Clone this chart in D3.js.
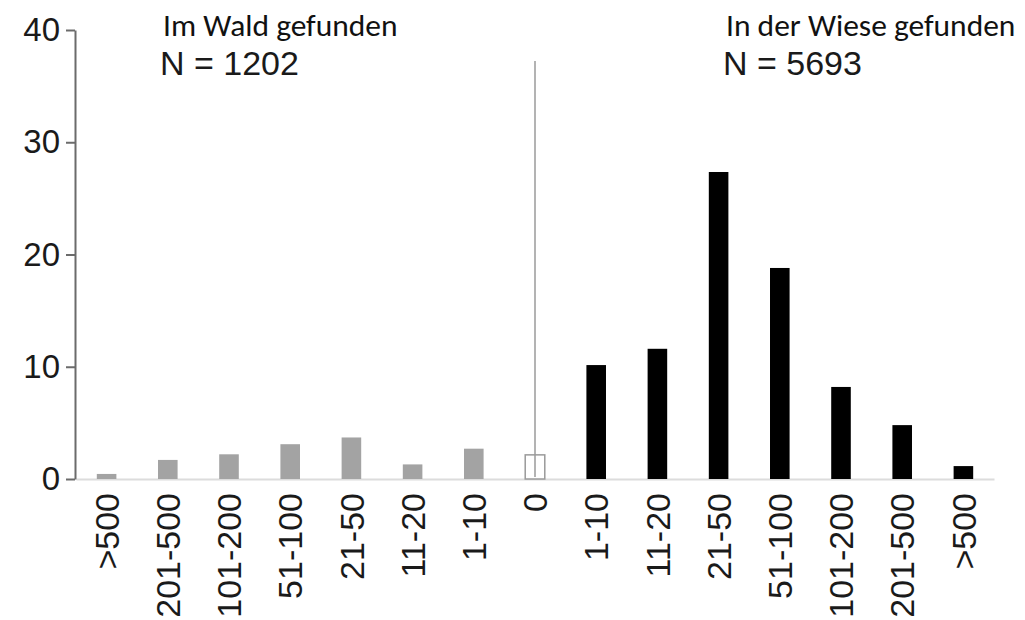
<!DOCTYPE html>
<html>
<head>
<meta charset="utf-8">
<script src="https://d3js.org/d3.v7.min.js"></script>
<style>
  body { margin: 0; background: #fff; }
  svg text { font-family: "Liberation Sans", Arial, sans-serif; }
</style>
</head>
<body>
<div id="chart"></div>
<script>
// classes of counts, left side = forest, right side = meadow
var categories = [">500", "201-500", "101-200", "51-100", "21-50", "11-20", "1-10",
                  "0",
                  "1-10", "11-20", "21-50", "51-100", "101-200", "201-500", ">500"];
var groups = ["wald", "wald", "wald", "wald", "wald", "wald", "wald",
              "null",
              "wiese", "wiese", "wiese", "wiese", "wiese", "wiese", "wiese"];
var values = [0.45, 1.7, 2.2, 3.1, 3.7, 1.3, 2.7,
              2.15,
              10.15, 11.6, 27.35, 18.8, 8.2, 4.8, 1.15];
var yTicks = [0, 10, 20, 30, 40];
var titles = ["Im Wald gefunden", "In der Wiese gefunden"];
var counts = ["N = 1202", "N = 5693"];

var width = 1025, height = 620;

var svg = d3.select("#chart")
  .append("svg")
    .attr("width", width)
    .attr("height", height);

var idx = d3.range(categories.length);

var x = d3.scaleBand()
  .domain(idx)
  .range([76, 994])
  .paddingInner(0.68)
  .paddingOuter(0.34);

var y = d3.scaleLinear()
  .domain([0, 40])
  .range([479, 30]);

var colors = { wald: "#a3a3a3", wiese: "#000000" };

// baseline + x labels
var xAxis = svg.append("g")
  .attr("transform", "translate(0," + y(0) + ")")
  .call(d3.axisBottom(x).tickSize(0).tickSizeOuter(0).tickFormat(function(i) { return categories[i]; }));
xAxis.select(".domain").attr("stroke", "#dcdcdc").attr("stroke-width", 2);
xAxis.selectAll("text")
  .attr("transform", "rotate(-90)")
  .attr("x", -14)
  .attr("y", 0)
  .attr("dy", "0.36em")
  .style("text-anchor", "end")
  .style("font-size", "34px")
  .attr("fill", "#1a1a1a");

// y axis
var yAxis = svg.append("g")
  .attr("transform", "translate(75,0)")
  .call(d3.axisLeft(y).tickValues(yTicks).tickSize(9).tickSizeOuter(0).tickPadding(6));
yAxis.select(".domain").attr("stroke", "#6b6b6b").attr("stroke-width", 2);
yAxis.selectAll(".tick line").attr("stroke", "#6b6b6b").attr("stroke-width", 2);
yAxis.selectAll("text")
  .style("font-size", "33px")
  .attr("fill", "#1a1a1a");

// filled bars
svg.selectAll("rect.bar")
  .data(idx.filter(function(i) { return groups[i] != "null"; }))
  .enter()
  .append("rect")
    .attr("class", "bar")
    .attr("x", function(i) { return x(i); })
    .attr("width", x.bandwidth())
    .attr("y", function(i) { return y(values[i]); })
    .attr("height", function(i) { return y(0) - y(values[i]); })
    .attr("fill", function(i) { return colors[groups[i]]; });

// empty bar for class 0
var zero = categories.indexOf("0");
svg.append("rect")
  .attr("x", x(zero))
  .attr("width", x.bandwidth())
  .attr("y", y(values[zero]))
  .attr("height", y(0) - y(values[zero]))
  .attr("fill", "#fff")
  .attr("stroke", "#9a9a9a")
  .attr("stroke-width", 1.5);

// divider
svg.append("line")
  .attr("x1", x(zero) + x.bandwidth() / 2)
  .attr("x2", x(zero) + x.bandwidth() / 2)
  .attr("y1", 61)
  .attr("y2", y(0) - 2)
  .attr("stroke", "#9a9a9a")
  .attr("stroke-width", 1.5);

// headings
var headX = [163, 726];
svg.selectAll("text.title")
  .data(titles)
  .enter()
  .append("text")
    .attr("class", "title")
    .attr("x", function(d, i) { return headX[i]; })
    .attr("y", 36)
    .style("font-family", "Carlito, Lato, sans-serif")
    .style("font-size", "31.5px")
    .attr("fill", "#111")
    .text(function(d) { return d; });

svg.selectAll("text.count")
  .data(counts)
  .enter()
  .append("text")
    .attr("class", "count")
    .attr("x", function(d, i) { return headX[i] - 3; })
    .attr("y", 75)
    .style("font-size", "34px")
    .attr("fill", "#1a1a1a")
    .text(function(d) { return d; });
</script>
</body>
</html>
